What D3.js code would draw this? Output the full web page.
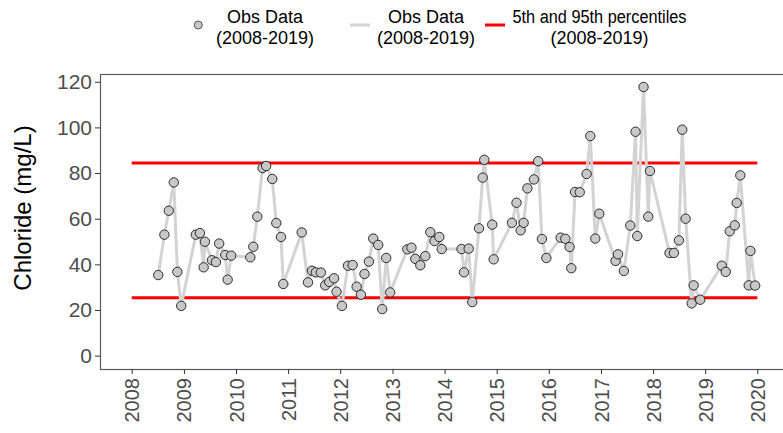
<!DOCTYPE html>
<html>
<head>
<meta charset="utf-8">
<script src="https://cdn.jsdelivr.net/npm/d3@7"></script>
<style>
  body { margin: 0; background: #fff; }
  svg { display: block; font-family: "Liberation Sans", Arial, sans-serif; }
</style>
</head>
<body>
<div id="chart"></div>
<script>
// sample dates and chloride (mg/L)
const sampleDates = [
  "2008-07-05","2008-08-17","2008-09-17","2008-10-22","2008-11-16","2008-12-13",
  "2009-03-25","2009-04-23","2009-05-19","2009-05-28","2009-07-16","2009-08-13","2009-09-05","2009-10-17","2009-11-03","2009-11-28",
  "2010-04-11","2010-05-02","2010-05-30","2010-07-06","2010-07-31","2010-09-12","2010-10-10","2010-11-12","2010-11-28",
  "2011-04-06","2011-05-20","2011-06-17","2011-07-14","2011-08-18","2011-09-18","2011-10-16","2011-11-19","2011-12-06",
  "2012-01-13","2012-02-24","2012-03-28","2012-04-25","2012-05-25","2012-06-19","2012-07-20","2012-08-19","2012-09-23","2012-10-21","2012-11-18","2012-12-16",
  "2013-04-15","2013-05-14","2013-06-10","2013-07-15","2013-08-19","2013-09-23","2013-10-23","2013-11-25","2013-12-12",
  "2014-04-30","2014-05-17","2014-06-19","2014-07-14","2014-08-30","2014-09-25","2014-10-06","2014-12-01","2014-12-11",
  "2015-04-18","2015-05-20","2015-06-18","2015-07-09","2015-08-04","2015-09-19","2015-10-19","2015-11-14","2015-12-15",
  "2016-03-24","2016-04-26","2016-05-26","2016-06-07","2016-07-03","2016-08-05","2016-09-22","2016-10-18","2016-11-22","2016-12-20",
  "2017-04-13","2017-04-30","2017-06-10","2017-07-25","2017-08-31","2017-09-12","2017-10-26","2017-11-28","2017-12-10",
  "2018-04-26","2018-05-27","2018-07-01","2018-07-24","2018-08-17","2018-09-28","2018-10-12","2018-11-27",
  "2019-04-27","2019-05-25","2019-06-22","2019-07-27","2019-08-10","2019-09-04","2019-11-02","2019-11-14","2019-12-17"
];
const chloride = [
  35.3, 53.0, 63.5, 75.9, 36.7, 21.8,
  53.0, 53.7, 38.7, 49.9, 41.8, 41.0, 49.1, 44.1, 33.3, 43.8,
  43.1, 47.7, 60.9, 82.2, 83.1, 77.4, 58.1, 52.0, 31.4,
  54.0, 32.1, 37.2, 36.5, 36.4, 30.8, 32.3, 33.9, 28.0,
  21.8, 39.4, 39.7, 30.2, 26.7, 35.8, 41.2, 51.3, 48.5, 20.4, 42.8, 27.7,
  46.6, 47.3, 42.4, 39.6, 43.6, 54.1, 50.2, 52.0, 46.7,
  46.7, 36.5, 46.9, 23.5, 55.8, 78.0, 85.8, 57.4, 42.2,
  58.2, 67.0, 54.9, 58.2, 73.3, 77.2, 85.2, 51.1, 42.8,
  51.7, 51.2, 47.6, 38.3, 71.7, 71.6, 79.6, 96.2, 51.3, 62.2,
  41.5, 44.4, 37.1, 57.0, 98.1, 52.4, 117.7, 60.9, 80.9,
  45.0, 45.0, 50.5, 99.0, 60.0, 22.9, 30.8, 24.5,
  39.4, 36.7, 54.5, 57.1, 66.9, 79.0, 30.8, 45.9, 30.7
];
const pct5 = 25.4;
const pct95 = 84.4;
const yearTicks = [2008, 2009, 2010, 2011, 2012, 2013, 2014, 2015, 2016, 2017, 2018, 2019, 2020];
const yTicks = [0, 20, 40, 60, 80, 100, 120];
const legendLabels = [
  ["Obs Data", "(2008-2019)"],
  ["Obs Data", "(2008-2019)"],
  ["5th and 95th percentiles", "(2008-2019)"]
];

const width = 783, height = 433;
const panel = { left: 100, top: 74, right: 789, bottom: 369 };

const parse = d3.timeParse("%Y-%m-%d");
const data = sampleDates.map((d, i) => ({ date: parse(d), value: chloride[i] }));

const svg = d3.select("#chart").append("svg")
  .attr("width", width)
  .attr("height", height);

// scales
const x = d3.scaleTime()
  .domain([new Date(2008, 0, 1), new Date(2020, 0, 1)])
  .range([131.7, 757.3]);

const y = d3.scaleLinear()
  .domain([-5.85, 123.4])
  .range([panel.bottom, panel.top]);

// panel border
svg.append("rect")
  .attr("x", panel.left + 0.5)
  .attr("y", panel.top + 0.5)
  .attr("width", panel.right - panel.left)
  .attr("height", panel.bottom - panel.top)
  .attr("fill", "none")
  .attr("stroke", "#5a5a5a")
  .attr("stroke-width", 1.2);

// percentile lines
const pctRange = [new Date(yearTicks[0], 0, 1), new Date(yearTicks[yearTicks.length - 1], 0, 1)];
[pct5, pct95].forEach(v => {
  svg.append("line")
    .attr("x1", x(pctRange[0]))
    .attr("x2", x(pctRange[1]))
    .attr("y1", y(v))
    .attr("y2", y(v))
    .attr("stroke", "#ff0000")
    .attr("stroke-width", 3);
});

// obs line
const line = d3.line()
  .x(d => x(d.date))
  .y(d => y(d.value));

svg.append("path")
  .datum(data)
  .attr("fill", "none")
  .attr("stroke", "#d3d3d3")
  .attr("stroke-width", 3)
  .attr("stroke-linejoin", "round")
  .attr("d", line);

// obs points
svg.selectAll(".dot")
  .data(data)
  .enter().append("circle")
  .attr("class", "dot")
  .attr("cx", d => x(d.date))
  .attr("cy", d => y(d.value))
  .attr("r", 4.7)
  .attr("fill", "#c8c8c8")
  .attr("stroke", "#1a1a1a")
  .attr("stroke-width", 0.9);

// y axis
const yAxis = svg.append("g")
  .attr("transform", `translate(${panel.left},0)`)
  .call(d3.axisLeft(y).tickValues(yTicks).tickSize(5).tickPadding(3));
yAxis.select(".domain").remove();
yAxis.selectAll("line").attr("stroke", "#333").attr("stroke-width", 1);
yAxis.selectAll("text")
  .style("font-size", "21px")
  .style("font-family", "Liberation Sans, Arial, sans-serif")
  .attr("fill", "#4d4d4d");

// x axis
const xAxis = svg.append("g")
  .attr("transform", `translate(0,${panel.bottom})`)
  .call(d3.axisBottom(x)
    .tickValues(yearTicks.map(yr => new Date(yr, 0, 1)))
    .tickFormat(d3.timeFormat("%Y"))
    .tickSize(5));
xAxis.select(".domain").remove();
xAxis.selectAll("line").attr("stroke", "#333").attr("stroke-width", 1);
xAxis.selectAll("text")
  .attr("transform", "rotate(-90)")
  .attr("x", -9)
  .attr("y", 0)
  .attr("dy", "0.35em")
  .style("text-anchor", "end")
  .style("font-size", "20px")
  .style("font-family", "Liberation Sans, Arial, sans-serif")
  .attr("fill", "#4d4d4d");

// y title
svg.append("text")
  .attr("transform", "translate(31,208) rotate(-90)")
  .attr("text-anchor", "middle")
  .style("font-size", "24px")
  .attr("fill", "#000")
  .text("Chloride (mg/L)");

// legend
const legend = svg.append("g");
legend.append("circle")
  .attr("cx", 198.3).attr("cy", 25).attr("r", 4)
  .attr("fill", "#c8c8c8").attr("stroke", "#333").attr("stroke-width", 0.8);
legend.append("line")
  .attr("x1", 350).attr("x2", 370).attr("y1", 25).attr("y2", 25)
  .attr("stroke", "#d3d3d3").attr("stroke-width", 3);
legend.append("line")
  .attr("x1", 485).attr("x2", 505).attr("y1", 25).attr("y2", 25)
  .attr("stroke", "#ff0000").attr("stroke-width", 3);

const legendCentres = [265, 426, 599.5];
legendLabels.forEach((lines, i) => {
  const t = legend.append("text")
    .attr("text-anchor", "middle")
    .style("font-size", "18px")
    .attr("fill", "#000");
  const first = t.append("tspan").attr("x", legendCentres[i]).attr("y", 23).text(lines[0]);
  t.append("tspan").attr("x", legendCentres[i]).attr("y", 44).text(lines[1]);
  // the long label is narrower in the reference than Liberation Sans sets it
  if (i === 2) first.attr("textLength", 174).attr("lengthAdjust", "spacingAndGlyphs");
});
</script>
</body>
</html>
